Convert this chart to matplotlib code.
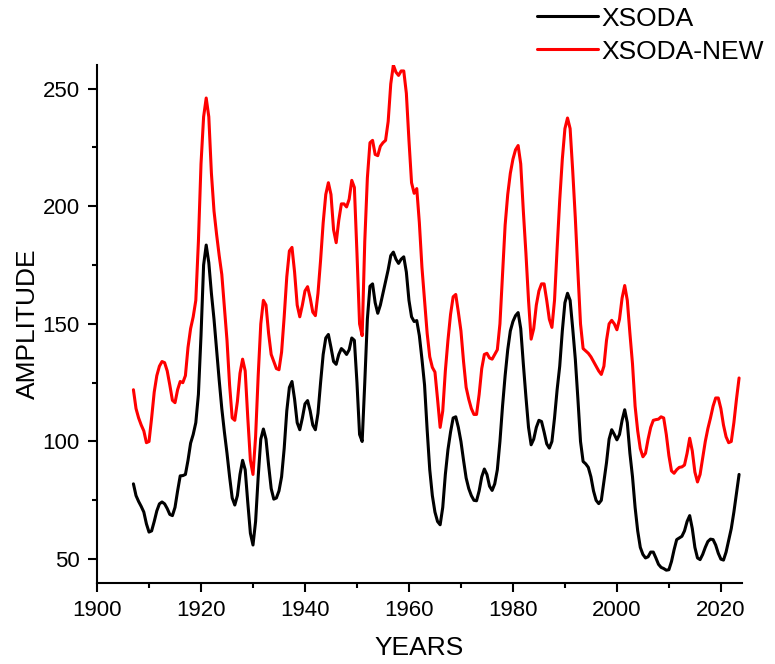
import numpy as np
import matplotlib
matplotlib.use("Agg")
import matplotlib.pyplot as plt
from matplotlib.ticker import MultipleLocator

plt.rcParams['font.family'] = ['Liberation Sans', 'DejaVu Sans']

# half-year samples, 1907.0 .. 2023.5
years = np.arange(1907, 2024, 0.5)

xsoda = [82, 77, 74.5, 72.4, 70, 65, 61.5, 62, 66, 70.5,
         73.5, 74.3, 73.5, 71.5, 69, 68.5, 72, 79, 85.4, 85.5,
         86, 92, 99.3, 103, 108, 120, 145, 175, 183.5, 176,
         163, 152, 139, 126, 114, 104, 95, 85, 76, 73,
         77, 86, 92, 88, 74, 61, 56, 66, 85, 101,
         105.3, 101, 90, 80, 75.5, 76, 79, 85, 97, 113,
         123, 125.5, 118, 108, 105, 110, 116, 117.4, 113, 107,
         105, 112, 125, 137, 144, 145.5, 140, 134, 132.8, 137,
         139.5, 138.5, 137, 139, 144, 143, 125, 103, 100, 125,
         152, 166, 167, 159, 154.5, 158, 163, 168, 173, 179,
         180.5, 177.5, 175.7, 177.5, 178.5, 172, 160, 153, 151, 151.4,
         145, 135, 124, 105, 88, 77, 70, 66, 64.6, 72,
         86, 96.5, 104, 110, 110.5, 106, 100, 92, 84.5, 80,
         77, 75, 74.8, 79, 85, 88.3, 86, 81, 79.2, 82,
         88, 100, 115, 128, 139, 147, 151, 153.5, 154.8, 148,
         133, 119, 106, 98.6, 101, 106, 109, 108.5, 104, 99,
         97.2, 100, 110, 122, 132, 147, 159, 163, 160, 148,
         135, 118, 100, 91.5, 90.5, 89, 85, 79, 75, 73.6,
         75, 83, 91, 101, 105, 103, 100.7, 103, 109, 113.5,
         108, 95, 85, 72, 62, 55, 52, 50.5, 51, 53,
         53, 50.5, 47.8, 46.5, 46, 45.3, 45.5, 49, 54, 58.3,
         59, 59.7, 62, 66, 68.5, 63, 55, 50.5, 49.8, 52,
         55, 57.5, 58.5, 58.3, 56, 52.5, 50, 49.6, 53, 58,
         63, 70, 78, 86]

xsoda_new = [122, 114, 110, 107, 104.5, 99.5, 100, 110, 121, 128,
             132, 134, 133.5, 130, 124, 117.5, 116.5, 122, 125.5, 125,
             128, 140, 148, 153, 160, 185, 218, 238, 246, 238,
             214, 198, 188, 179, 171, 157, 143, 124, 110, 109,
             117, 129, 135, 130, 110, 92, 86, 102, 128, 150,
             160, 158, 146, 137, 134, 131, 130.5, 138, 153, 170,
             181, 182.5, 172, 158, 153, 158, 164, 165.8, 161, 155,
             153.5, 163, 177, 193, 205, 210, 205, 190, 184.5, 194,
             201, 201, 199.7, 203, 211, 208, 180, 150, 145, 185,
             212, 227, 228, 222, 221.5, 225.5, 227, 228, 236, 252,
             260, 257, 255.6, 257.5, 257.5, 248, 228, 210, 205.5, 207.5,
             193, 174, 160, 146, 136, 131.5, 129.5, 118, 106, 113,
             130, 143, 154, 161.5, 162.5, 155, 147, 134, 123, 118,
             114, 111.5, 111.5, 120, 131, 137, 137.5, 135.5, 135, 137,
             139, 150, 171, 192, 205, 214, 220, 224, 225.8, 218,
             198, 180, 160, 143.5, 148, 158, 164, 167, 167, 160,
             152, 148.5, 160, 182, 202.6, 220, 233, 237.5, 233, 215,
             195, 172, 150, 139.5, 138.5, 137.5, 136, 134, 132, 130,
             128.5, 132, 143, 150, 151.5, 150, 147.5, 152, 161, 166.3,
             160, 146, 133, 115, 104.5, 97, 93.5, 95, 101, 106,
             109, 109.3, 109.5, 110.5, 110, 103, 94, 87.5, 86.5, 88,
             89, 89.2, 90, 95, 101.4, 96, 87, 82.8, 86, 93,
             100, 105.5, 110, 115, 118.5, 118.5, 114, 107, 102, 99.5,
             100, 108, 118, 127]

fig = plt.figure(figsize=(7.75, 6.64), dpi=100)
ax = fig.add_axes([0.1252, 0.1225, 0.8318, 0.7795])

ax.plot(years, xsoda, color='black', lw=2.2, label='XSODA',
        solid_joinstyle='round', solid_capstyle='round')
ax.plot(years, xsoda_new, color='red', lw=2.2, label='XSODA-NEW',
        solid_joinstyle='round', solid_capstyle='round')

ax.set_xlim(1900, 2024)
ax.set_ylim(40, 260)
ax.xaxis.set_major_locator(MultipleLocator(20))
ax.xaxis.set_minor_locator(MultipleLocator(10))
ax.yaxis.set_major_locator(MultipleLocator(50))
ax.yaxis.set_minor_locator(MultipleLocator(25))

for side in ('top', 'right'):
    ax.spines[side].set_visible(False)
for side in ('left', 'bottom'):
    ax.spines[side].set_linewidth(1.5)

ax.tick_params(which='major', length=6.5, width=1.5, labelsize=16, pad=6)
ax.tick_params(which='minor', length=3.8, width=1.5)

ax.set_xlabel('YEARS', fontsize=19, labelpad=11)
ax.set_ylabel('AMPLITUDE', fontsize=19, labelpad=2)

ax.legend(loc='upper left', bbox_to_anchor=(0.693, 0.99),
          bbox_transform=fig.transFigure, frameon=False, fontsize=19,
          handlelength=2.3, handletextpad=0.15, labelspacing=0.34,
          borderpad=0, borderaxespad=0)

fig.savefig('out.png', dpi=100)
